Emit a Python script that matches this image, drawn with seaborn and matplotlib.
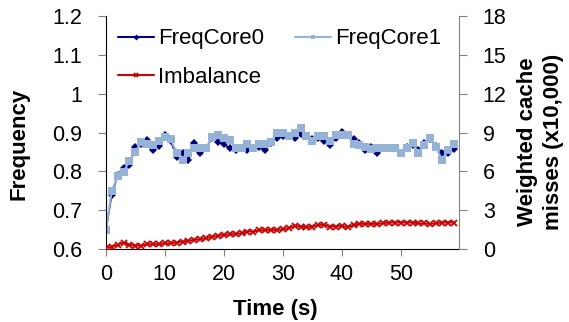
import numpy as np
import matplotlib
matplotlib.use("Agg")
import matplotlib.pyplot as plt
from matplotlib.lines import Line2D
import pandas as pd
import seaborn as sns

# time in seconds, one sample per second
time_s = list(range(60))

freq_core0 = [0.648, 0.739, 0.790, 0.809, 0.816, 0.862, 0.870, 0.880, 0.855, 0.865,
              0.893, 0.879, 0.837, 0.848, 0.829, 0.872, 0.846, 0.859, 0.886, 0.876,
              0.870, 0.859, 0.855, 0.859, 0.855, 0.859, 0.862, 0.855, 0.872, 0.887,
              0.891, 0.891, 0.887, 0.896, 0.891, 0.882, 0.885, 0.879, 0.867, 0.886,
              0.902, 0.893, 0.882, 0.872, 0.856, 0.862, 0.846, 0.859, 0.859, 0.859,
              0.848, 0.862, 0.867, 0.855, 0.872, 0.882, 0.865, 0.848, 0.846, 0.857]

freq_core1 = [0.648, 0.749, 0.788, 0.799, 0.827, 0.850, 0.876, 0.870, 0.867, 0.879,
              0.889, 0.882, 0.848, 0.829, 0.846, 0.859, 0.859, 0.859, 0.888, 0.893,
              0.885, 0.880, 0.859, 0.859, 0.870, 0.859, 0.870, 0.870, 0.876, 0.898,
              0.899, 0.891, 0.899, 0.911, 0.891, 0.879, 0.891, 0.891, 0.879, 0.893,
              0.893, 0.893, 0.870, 0.867, 0.862, 0.857, 0.859, 0.859, 0.859, 0.859,
              0.848, 0.859, 0.872, 0.848, 0.867, 0.885, 0.862, 0.829, 0.855, 0.870]

# weighted cache misses (x10,000), right axis
imbalance = [0.05, 0.18, 0.31, 0.49, 0.31, 0.25, 0.25, 0.36, 0.38, 0.36,
             0.44, 0.44, 0.49, 0.56, 0.62, 0.70, 0.75, 0.82, 0.95, 1.00,
             1.08, 1.13, 1.16, 1.21, 1.34, 1.34, 1.45, 1.45, 1.47, 1.47,
             1.52, 1.60, 1.78, 1.73, 1.68, 1.73, 1.86, 1.86, 1.73, 1.73,
             1.78, 1.68, 1.86, 1.93, 1.93, 1.93, 1.93, 1.98, 2.04, 2.04,
             2.04, 2.04, 2.04, 1.98, 1.98, 1.93, 1.98, 2.04, 2.04, 2.04]

df = pd.DataFrame({"t": time_s, "c0": freq_core0, "c1": freq_core1, "imb": imbalance})

c0_col = "#000080"
c1_col = "#95B3D7"
imb_col = "#CC0000"

sns.set_style("white")
plt.rcParams['font.family'] = ['Liberation Sans', 'DejaVu Sans']
plt.rcParams['text.color'] = 'black'
plt.rcParams['axes.labelcolor'] = 'black'
plt.rcParams['xtick.color'] = 'black'
plt.rcParams['ytick.color'] = 'black'

fig = plt.figure(figsize=(5.69, 3.22), dpi=100)
ax = fig.add_axes([0.186, 0.227, 0.621, 0.723])
ax2 = ax.twinx()

sns.lineplot(data=df, x="t", y="c0", ax=ax, color=c0_col, marker="D",
             markersize=4, markeredgewidth=0, markeredgecolor=c0_col,
             linewidth=1.2, legend=False)
sns.lineplot(data=df, x="t", y="c1", ax=ax, color=c1_col, marker="s",
             markersize=5.8, markeredgewidth=0, markeredgecolor=c1_col,
             linewidth=1.5, legend=False)
sns.lineplot(data=df, x="t", y="imb", ax=ax2, color=imb_col, marker="x",
             markersize=4, markeredgewidth=1.3, markeredgecolor=imb_col,
             linewidth=1.3, legend=False)

ax.set_xlim(0, 59.9)
ax.set_ylim(0.6, 1.2)
ax.set_yticks(np.arange(0.6, 1.21, 0.1))
ax.set_yticklabels(["0.6", "0.7", "0.8", "0.9", "1", "1.1", "1.2"])
ax.set_xticks([0, 10, 20, 30, 40, 50])
ax2.set_ylim(0, 18)
ax2.set_yticks(range(0, 19, 3))

for a in (ax, ax2):
    a.spines['top'].set_visible(False)
ax.spines['left'].set_color("black")
ax.spines['bottom'].set_color("black")
ax.spines['right'].set_visible(False)
ax2.spines['left'].set_visible(False)
ax2.spines['bottom'].set_visible(False)
ax2.spines['right'].set_color("#808080")

ax.tick_params(axis='y', direction='out', length=6, width=0.8, pad=11,
               color="#808080", labelcolor="black", labelsize=15.5, left=True)
ax.tick_params(axis='x', direction='out', length=5, width=0.8, pad=6,
               color="#808080", labelcolor="black", labelsize=15.5, bottom=True)
ax2.tick_params(axis='y', direction='out', length=6, width=0.8, pad=11,
                color="#808080", labelcolor="black", labelsize=15.5, right=True)

ax.set_xlabel("Time (s)", fontsize=16, fontweight="bold")
ax.xaxis.set_label_coords(0.48, -0.215)
ax.set_ylabel("Frequency", fontsize=16, fontweight="bold")
ax.yaxis.set_label_coords(-0.215, 0.45)
ax2.set_ylabel("Weighted cache\nmisses (x10,000)", fontsize=16, fontweight="bold",
               linespacing=1.3)
ax2.yaxis.set_label_coords(1.165, 0.46)

handles = [
    Line2D([], [], color=c0_col, marker="D", markersize=3, lw=1.5, mew=0),
    Line2D([], [], color=imb_col, marker="x", markersize=3, lw=1.5, mew=1.2),
    Line2D([], [], color=c1_col, marker="s", markersize=3, lw=1.5, mew=0),
]
labels = ["FreqCore0", "Imbalance", "FreqCore1"]
ax.legend(handles, labels, ncol=2, loc="upper left", frameon=False, fontsize=16,
          handlelength=1.6, handletextpad=0.2, columnspacing=1.4,
          labelspacing=0.78, borderaxespad=0.15, bbox_to_anchor=(0.0, 1.0))

fig.savefig("out.png", dpi=100)
